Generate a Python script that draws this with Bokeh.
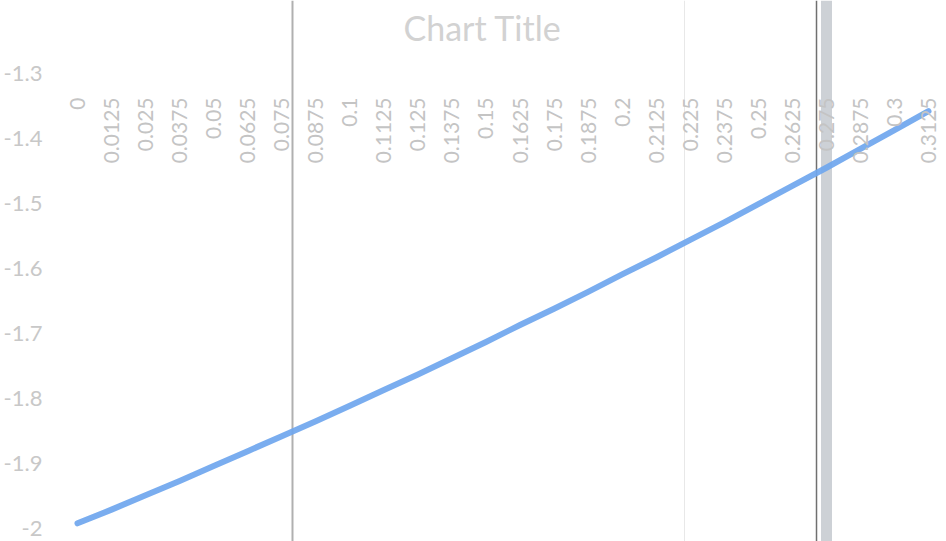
from math import pi

from bokeh.core.properties import value
from bokeh.embed import file_html
from bokeh.models import ColumnDataSource, FixedTicker, Label, Range1d, Span
from bokeh.plotting import figure
from bokeh.resources import INLINE

# Category axis: step values 0 .. 0.3125
categories = ["0", "0.0125", "0.025", "0.0375", "0.05", "0.0625", "0.075", "0.0875",
              "0.1", "0.1125", "0.125", "0.1375", "0.15", "0.1625", "0.175", "0.1875",
              "0.2", "0.2125", "0.225", "0.2375", "0.25", "0.2625", "0.275", "0.2875",
              "0.3", "0.3125"]

# Series values, one per category
series_values = [-1.992, -1.971, -1.949, -1.927, -1.904, -1.881, -1.858, -1.835,
                 -1.811, -1.787, -1.763, -1.738, -1.713, -1.687, -1.662, -1.636,
                 -1.609, -1.583, -1.556, -1.529, -1.501, -1.473, -1.445, -1.416,
                 -1.387, -1.358]

# Value axis ticks
y_ticks = [-2.0, -1.9, -1.8, -1.7, -1.6, -1.5, -1.4, -1.3]
y_tick_labels = ["-2", "-1.9", "-1.8", "-1.7", "-1.6", "-1.5", "-1.4", "-1.3"]

FONT = "Lato"
W, H = 946, 541
LEFT = 52                      # room for the value-axis labels
STEP_PX = 34.04                # horizontal pixels per category
FIRST_PX = 25                  # first category's distance from the frame's left edge
UNIT_PX = 650                  # vertical pixels per 1.0 on the value axis
BASE_PX = 528                  # screen row of the -2 tick

idx = list(range(len(categories)))
src = ColumnDataSource(dict(idx=idx, val=series_values, label=categories))

x_start = -FIRST_PX / STEP_PX
x_end = x_start + (W - LEFT) / STEP_PX
y_top = y_ticks[0] + BASE_PX / UNIT_PX
y_bottom = y_ticks[0] - (H - BASE_PX) / UNIT_PX

p = figure(width=W, height=H, output_backend="svg", toolbar_location=None,
           x_range=Range1d(x_start, x_end), y_range=Range1d(y_bottom, y_top),
           x_axis_location=None, y_axis_location="left",
           min_border_left=LEFT, min_border_right=0, min_border_top=0, min_border_bottom=0,
           background_fill_color="white", border_fill_color="white",
           outline_line_color=None)
p.grid.visible = False

# Value axis: labels only
yax = p.yaxis[0]
yax.ticker = FixedTicker(ticks=y_ticks)
yax.major_label_overrides = {t: s for t, s in zip(y_ticks, y_tick_labels)}
yax.axis_line_color = None
yax.major_tick_line_color = None
yax.minor_tick_line_color = None
yax.major_label_standoff = 4
yax.major_label_text_font = FONT
yax.major_label_text_font_size = "22px"
yax.major_label_text_color = "#c8c8c8"

# Faint vertical streaks across the page
for loc, color, width in [(6.316, "#b0b0b0", 2),
                          (17.832, "#e8e8e8", 1),
                          (21.71, "#707070", 1.5),
                          (22.003, "#cdd1d6", 11)]:
    p.add_layout(Span(location=loc, dimension="height", line_color=color,
                      line_width=width, level="underlay"))

# Series line
p.line("idx", "val", source=src, line_color="#6fa6ee", line_width=6, line_alpha=0.92,
       line_cap="round", line_join="round")

# Category labels hang below the top of the value range, rotated
p.text(x="idx", y=y_ticks[-1], text="label", source=src, angle=pi / 2,
       y_offset=24, text_align="right", text_baseline="middle",
       text_font=value(FONT), text_font_size="21px", text_color="#c4c4c4")

# Chart title
p.add_layout(Label(x=11.9, y=y_ticks[0] + (BASE_PX - 27) / UNIT_PX, text="Chart Title",
                   text_align="center", text_baseline="middle",
                   text_font=FONT, text_font_size="34px", text_color="#d2d2d2"))

open("out.html", "w").write(file_html(p, INLINE))
